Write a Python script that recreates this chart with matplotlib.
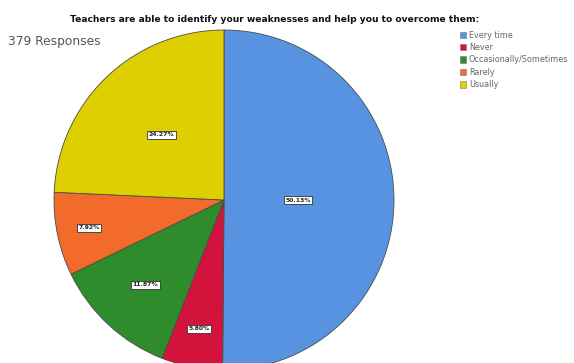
import numpy as np
import matplotlib
matplotlib.use("Agg")
import matplotlib.pyplot as plt
from matplotlib.patches import Patch

# Survey answers (379 responses)
categories = ["Every time", "Never", "Occasionally/Sometimes", "Rarely", "Usually"]
counts = [190, 22, 45, 30, 92]
pct_labels = ["50.13%", "5.80%", "11.87%", "7.92%", "24.27%"]
colors = ["#5793e0", "#d3133b", "#2f8c2c", "#f26b2b", "#ded000"]
label_radius = [0.435, 0.77, 0.68, 0.81, 0.53]

title = "Teachers are able to identify your weaknesses and help you to overcome them:"
subtitle = "379 Responses"

W, H = 574, 363
fig = plt.figure(figsize=(W / 100, H / 100), dpi=100)
fig.patch.set_facecolor("white")

ax = fig.add_axes([54 / W, -7 / H, 340 / W, 340 / H])
wedges, _ = ax.pie(counts, colors=colors, startangle=90, counterclock=False,
                   radius=1.0,
                   wedgeprops=dict(edgecolor="#4a4a4a", linewidth=0.6))
ax.set_xlim(-1.0, 1.0)
ax.set_ylim(-1.0, 1.0)
ax.set_aspect("equal")
ax.axis("off")

for w, lab, d in zip(wedges, pct_labels, label_radius):
    mid = np.deg2rad((w.theta1 + w.theta2) / 2)
    ax.text(d * np.cos(mid), d * np.sin(mid), lab, ha="center", va="center",
            fontsize=4.4, fontweight="bold", color="#222222",
            bbox=dict(boxstyle="square,pad=0.25", facecolor="white",
                      edgecolor="#333333", linewidth=0.6))

fig.text(275 / W, 1 - 20 / H, title, ha="center", va="center",
         fontsize=6.6, fontweight="bold", color="#111111")
fig.text(8 / W, 1 - 41 / H, subtitle, ha="left", va="center",
         fontsize=8.8, color="#555555")

handles = [Patch(facecolor=c, edgecolor="#777777", linewidth=0.4) for c in colors]
leg = fig.legend(handles, categories, loc="upper left",
                 bbox_to_anchor=(454 / W, 1 - 25 / H), frameon=False,
                 fontsize=5.8, handlelength=0.85, handleheight=0.85,
                 handletextpad=0.3, labelspacing=0.42, borderpad=0.2)
for t in leg.get_texts():
    t.set_color("#666666")

fig.savefig("out.png", dpi=100, facecolor="white")
